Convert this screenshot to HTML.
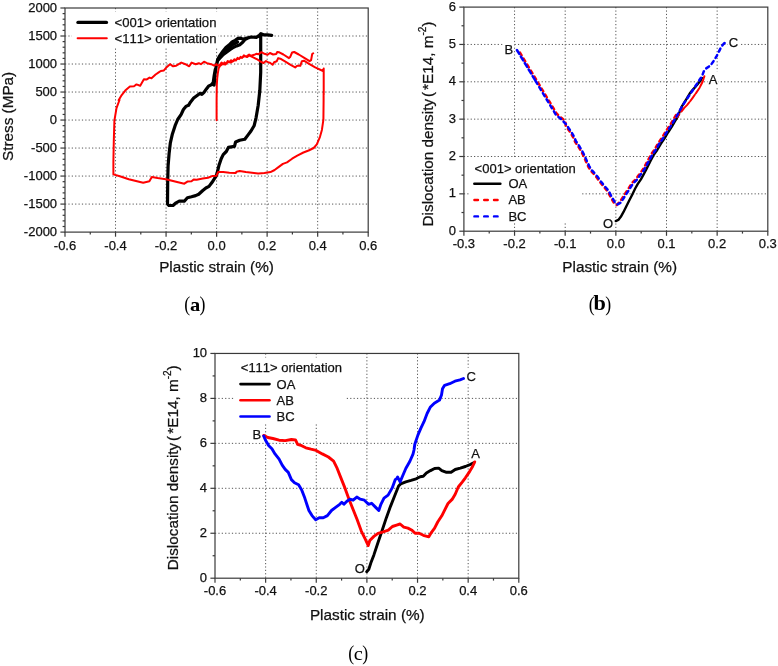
<!DOCTYPE html>
<html><head><meta charset="utf-8"><title>Figure</title>
<style>
html,body{margin:0;padding:0;background:#fff;}
svg{display:block;}
text{font-family:"Liberation Sans",Arial,sans-serif;fill:#111;font-kerning:none;stroke:#111;stroke-width:0.25px;}
.tk text{font-size:13px;}
.lg{font-size:13px;}
.pt{font-size:13px;}
.al{font-size:15.3px;}
.cap{font-family:"Liberation Serif","DejaVu Serif",serif;fill:#000;stroke:none;}
</style></head><body>
<svg width="778" height="666" viewBox="0 0 778 666">
<rect width="778" height="666" fill="#fff"/>
<g stroke="#555" stroke-width="1" stroke-dasharray="1.2 2.18" fill="none"><line x1="115.53" y1="8.00" x2="115.53" y2="232.10"/><line x1="166.07" y1="8.00" x2="166.07" y2="232.10"/><line x1="216.60" y1="8.00" x2="216.60" y2="232.10"/><line x1="267.13" y1="8.00" x2="267.13" y2="232.10"/><line x1="317.67" y1="8.00" x2="317.67" y2="232.10"/><line x1="65.00" y1="36.01" x2="368.20" y2="36.01"/><line x1="65.00" y1="64.03" x2="368.20" y2="64.03"/><line x1="65.00" y1="92.04" x2="368.20" y2="92.04"/><line x1="65.00" y1="120.05" x2="368.20" y2="120.05"/><line x1="65.00" y1="148.06" x2="368.20" y2="148.06"/><line x1="65.00" y1="176.07" x2="368.20" y2="176.07"/><line x1="65.00" y1="204.09" x2="368.20" y2="204.09"/></g>
<rect x="72" y="11.5" width="146" height="35.5" fill="#fff"/>
<g stroke="#3a3a3a" stroke-width="1.2" fill="none"><line x1="65.00" y1="232.10" x2="65.00" y2="236.70"/><line x1="115.53" y1="232.10" x2="115.53" y2="236.70"/><line x1="166.07" y1="232.10" x2="166.07" y2="236.70"/><line x1="216.60" y1="232.10" x2="216.60" y2="236.70"/><line x1="267.13" y1="232.10" x2="267.13" y2="236.70"/><line x1="317.67" y1="232.10" x2="317.67" y2="236.70"/><line x1="368.20" y1="232.10" x2="368.20" y2="236.70"/><line x1="90.27" y1="232.10" x2="90.27" y2="234.50"/><line x1="140.80" y1="232.10" x2="140.80" y2="234.50"/><line x1="191.33" y1="232.10" x2="191.33" y2="234.50"/><line x1="241.87" y1="232.10" x2="241.87" y2="234.50"/><line x1="292.40" y1="232.10" x2="292.40" y2="234.50"/><line x1="342.93" y1="232.10" x2="342.93" y2="234.50"/><line x1="65.00" y1="8.00" x2="60.40" y2="8.00"/><line x1="65.00" y1="36.01" x2="60.40" y2="36.01"/><line x1="65.00" y1="64.03" x2="60.40" y2="64.03"/><line x1="65.00" y1="92.04" x2="60.40" y2="92.04"/><line x1="65.00" y1="120.05" x2="60.40" y2="120.05"/><line x1="65.00" y1="148.06" x2="60.40" y2="148.06"/><line x1="65.00" y1="176.07" x2="60.40" y2="176.07"/><line x1="65.00" y1="204.09" x2="60.40" y2="204.09"/><line x1="65.00" y1="232.10" x2="60.40" y2="232.10"/><line x1="65.00" y1="13.60" x2="62.60" y2="13.60"/><line x1="65.00" y1="19.21" x2="62.60" y2="19.21"/><line x1="65.00" y1="24.81" x2="62.60" y2="24.81"/><line x1="65.00" y1="30.41" x2="62.60" y2="30.41"/><line x1="65.00" y1="41.62" x2="62.60" y2="41.62"/><line x1="65.00" y1="47.22" x2="62.60" y2="47.22"/><line x1="65.00" y1="52.82" x2="62.60" y2="52.82"/><line x1="65.00" y1="58.42" x2="62.60" y2="58.42"/><line x1="65.00" y1="69.63" x2="62.60" y2="69.63"/><line x1="65.00" y1="75.23" x2="62.60" y2="75.23"/><line x1="65.00" y1="80.83" x2="62.60" y2="80.83"/><line x1="65.00" y1="86.44" x2="62.60" y2="86.44"/><line x1="65.00" y1="97.64" x2="62.60" y2="97.64"/><line x1="65.00" y1="103.24" x2="62.60" y2="103.24"/><line x1="65.00" y1="108.84" x2="62.60" y2="108.84"/><line x1="65.00" y1="114.45" x2="62.60" y2="114.45"/><line x1="65.00" y1="125.65" x2="62.60" y2="125.65"/><line x1="65.00" y1="131.25" x2="62.60" y2="131.25"/><line x1="65.00" y1="136.86" x2="62.60" y2="136.86"/><line x1="65.00" y1="142.46" x2="62.60" y2="142.46"/><line x1="65.00" y1="153.67" x2="62.60" y2="153.67"/><line x1="65.00" y1="159.27" x2="62.60" y2="159.27"/><line x1="65.00" y1="164.87" x2="62.60" y2="164.87"/><line x1="65.00" y1="170.47" x2="62.60" y2="170.47"/><line x1="65.00" y1="181.68" x2="62.60" y2="181.68"/><line x1="65.00" y1="187.28" x2="62.60" y2="187.28"/><line x1="65.00" y1="192.88" x2="62.60" y2="192.88"/><line x1="65.00" y1="198.49" x2="62.60" y2="198.49"/><line x1="65.00" y1="209.69" x2="62.60" y2="209.69"/><line x1="65.00" y1="215.29" x2="62.60" y2="215.29"/><line x1="65.00" y1="220.89" x2="62.60" y2="220.89"/><line x1="65.00" y1="226.50" x2="62.60" y2="226.50"/><rect x="65.00" y="8.00" width="303.20" height="224.10"/></g>
<g class="tk"><text x="65.00" y="249.50" text-anchor="middle">-0.6</text><text x="115.53" y="249.50" text-anchor="middle">-0.4</text><text x="166.07" y="249.50" text-anchor="middle">-0.2</text><text x="216.60" y="249.50" text-anchor="middle">0.0</text><text x="267.13" y="249.50" text-anchor="middle">0.2</text><text x="317.67" y="249.50" text-anchor="middle">0.4</text><text x="368.20" y="249.50" text-anchor="middle">0.6</text><text x="57.10" y="11.60" text-anchor="end">2000</text><text x="57.10" y="39.61" text-anchor="end">1500</text><text x="57.10" y="67.62" text-anchor="end">1000</text><text x="57.10" y="95.64" text-anchor="end">500</text><text x="57.10" y="123.65" text-anchor="end">0</text><text x="57.10" y="151.66" text-anchor="end">-500</text><text x="57.10" y="179.67" text-anchor="end">-1000</text><text x="57.10" y="207.69" text-anchor="end">-1500</text><text x="57.10" y="235.70" text-anchor="end">-2000</text></g>
<path d="M217.7,60.0 L220.0,56.7 L223.1,52.9 L226.7,49.6 L229.7,47.1 L232.8,44.5 L235.9,43.1 L237.6,42.0" fill="none" stroke="#000" stroke-width="3.2" stroke-linejoin="round" stroke-linecap="round"/>
<path d="M214.1,85.1 L215.1,73.3 L216.2,66.1 L217.7,59.4 L219.8,55.6 L222.9,51.2 L225.9,47.6 L229.0,45.1 L232.1,42.0 L235.2,40.4 L238.0,38.4 L240.8,38.2 L243.4,39.4 L246.0,38.2 L251.1,37.0 L256.3,37.4 L259.4,35.8 L260.9,34.5 L260.7,37.4 L260.7,60.0 L260.7,72.3 L259.8,90.8 L258.2,105.2 L256.1,117.6 L254.1,125.8 L251.0,131.0 L247.9,135.1 L244.8,139.2 L239.7,140.2 L235.6,141.9 L234.5,146.4 L228.4,147.4 L226.3,151.5 L223.2,154.6 L221.2,158.7 L219.1,164.9 L217.1,173.1 L216.0,176.2 L216.6,175.1 L214.1,179.2 L212.1,182.3 L209.0,186.4 L205.9,188.0 L202.8,190.5 L198.7,194.2 L195.6,195.6 L191.5,196.7 L187.4,197.7 L184.3,201.2 L179.2,201.2 L176.1,202.8 L173.0,205.5 L168.9,205.5 L167.5,203.9 L167.7,182.3 L168.1,165.8 L169.1,153.5 L170.3,143.2 L172.4,133.9 L175.1,125.7 L177.7,119.5 L181.2,114.4 L183.4,109.5 L185.9,106.4 L188.5,105.3 L190.6,101.9 L193.7,98.1 L196.8,95.7 L199.8,93.4 L201.9,94.4 L204.0,92.4 L206.4,88.9 L208.5,86.2 L211.2,84.8 L213.2,82.7 L214.2,75.5 L215.3,69.4 L215.1,73.3 L216.2,66.1 L217.7,60.5 L220.3,57.7 L223.4,54.5 L227.5,51.5 L230.6,49.3 L233.7,47.2 L236.7,45.9 L239.8,44.7 L242.7,42.3 L244.8,39.7 L247.8,38.1 L251.1,37.0 L256.3,37.4 L259.4,35.3 L260.9,33.7 L263.5,34.8 L267.6,34.8 L271.7,35.3" fill="none" stroke="#000" stroke-width="3.2" stroke-linejoin="round" stroke-linecap="round"/>
<path d="M216.6,120.2 L216.6,100.0 L216.8,85.1 L217.2,78.5 L217.8,73.3 L218.7,68.2 L220.3,65.6 L220.3,65.6 L222.3,64.1 L225.4,64.6 L228.5,61.5 L230.6,62.5 L233.7,60.8 L236.7,59.4 L239.8,58.1 L242.9,57.1 L245.0,56.1 L247.0,57.1 L249.1,55.5 L251.1,56.4 L254.2,57.9 L257.3,59.4 L260.4,61.5 L263.5,63.0 L266.0,61.0 L268.6,62.5 L270.0,62.8 L272.6,64.8 L274.1,62.2 L276.7,61.2 L278.2,58.1 L280.3,58.7 L285.4,61.7 L290.6,64.8 L295.2,67.4 L297.2,65.8 L300.3,65.8 L301.9,61.2 L303.9,60.7 L309.1,63.8 L315.2,67.4 L323.0,71.0 L323.7,68.4 L323.7,95.1 L323.6,92.9 L323.6,101.1 L323.4,119.6 L321.9,129.9 L319.9,137.1 L316.8,144.3 L313.7,148.0 L308.6,150.5 L303.4,152.5 L297.3,155.6 L292.1,158.7 L287.0,162.4 L282.9,163.9 L278.8,166.9 L274.6,170.0 L270.5,172.1 L264.4,173.1 L258.2,173.5 L252.0,172.7 L245.8,172.1 L239.7,171.1 L236.6,171.7 L235.6,173.1 L229.4,172.7 L223.2,172.1 L218.1,172.1 L216.6,175.2 L216.6,175.7 L212.1,176.1 L208.0,177.7 L202.8,178.6 L196.7,179.8 L193.6,179.6 L191.5,181.2 L187.4,181.6 L184.3,183.7 L178.1,182.3 L172.0,180.8 L165.8,179.2 L157.6,178.1 L151.8,177.1 L149.4,181.2 L143.2,182.7 L137.0,181.2 L128.8,179.2 L120.6,176.5 L113.4,174.4 L113.4,161.7 L113.8,141.1 L114.4,120.6 L116.5,108.2 L119.5,100.0 L118.6,100.2 L121.7,95.1 L125.8,89.9 L129.9,86.4 L134.0,86.2 L136.5,84.4 L140.2,85.8 L143.9,79.2 L146.4,79.6 L149.5,77.6 L151.5,78.2 L155.6,74.5 L158.7,72.4 L160.8,71.0 L163.9,70.4 L166.9,66.9 L170.0,64.2 L173.1,66.3 L176.2,65.7 L181.3,62.6 L185.4,64.2 L189.2,66.3 L191.6,62.6 L195.7,64.2 L198.8,63.2 L200.9,64.2 L204.0,61.7 L207.0,63.2 L211.2,64.2 L214.2,65.7 L216.7,64.2 L216.7,64.9 L218.2,65.6 L220.3,64.3 L221.5,62.6 L223.2,64.1 L224.6,62.4 L226.2,63.8 L227.7,61.0 L229.3,62.2 L231.1,60.3 L232.6,61.5 L234.5,59.2 L235.9,60.5 L237.6,57.9 L239.0,59.1 L240.6,56.9 L242.1,57.9 L243.9,55.4 L245.5,56.5 L247.2,55.8 L249.1,54.6 L251.1,55.8 L254.2,54.8 L256.3,53.8 L258.3,54.3 L261.4,52.2 L264.5,53.8 L267.6,54.8 L269.6,53.3 L270.0,53.0 L273.1,54.5 L276.2,54.0 L277.2,52.0 L279.3,52.3 L283.4,54.5 L289.0,58.1 L290.1,57.1 L292.1,52.5 L294.2,52.0 L298.8,54.5 L303.9,57.6 L309.6,61.2 L311.1,60.2 L312.2,54.0 L313.2,53.3" fill="none" stroke="#f00" stroke-width="2" stroke-linejoin="round" stroke-linecap="round"/>
<line x1="78" y1="22.4" x2="106.4" y2="22.4" stroke="#000" stroke-width="3.4" stroke-linecap="round"/>
<line x1="77.6" y1="38.3" x2="106.8" y2="38.3" stroke="#f00" stroke-width="2" stroke-linecap="round"/>
<text class="lg" style="font-size:13.1px" x="114.5" y="27">&lt;001&gt; orientation</text>
<text class="lg" style="font-size:13.1px" x="114.5" y="43">&lt;111&gt; orientation</text>
<text class="al" x="216.5" y="272.0" text-anchor="middle">Plastic strain (%)</text>
<text class="al" transform="translate(12.6 116.4) rotate(-90)" text-anchor="middle">Stress (MPa)</text>
<text class="cap" font-size="21.8" transform="translate(187.3 311.4) scale(0.82 1)" text-anchor="middle">(</text>
<text class="cap" font-size="19.5" transform="translate(195.0 310.7) scale(1.05 1)" text-anchor="middle" font-weight="bold">a</text>
<text class="cap" font-size="21.8" transform="translate(202.5 311.4) scale(0.82 1)" text-anchor="middle">)</text>
<g stroke="#555" stroke-width="1" stroke-dasharray="1.2 2.18" fill="none"><line x1="514.55" y1="7.10" x2="514.55" y2="231.20"/><line x1="565.20" y1="7.10" x2="565.20" y2="231.20"/><line x1="615.85" y1="7.10" x2="615.85" y2="231.20"/><line x1="666.50" y1="7.10" x2="666.50" y2="231.20"/><line x1="717.15" y1="7.10" x2="717.15" y2="231.20"/><line x1="463.90" y1="44.45" x2="767.80" y2="44.45"/><line x1="463.90" y1="81.80" x2="767.80" y2="81.80"/><line x1="463.90" y1="119.15" x2="767.80" y2="119.15"/><line x1="463.90" y1="156.50" x2="767.80" y2="156.50"/><line x1="463.90" y1="193.85" x2="767.80" y2="193.85"/></g>
<rect x="469" y="158.5" width="111.5" height="64.5" fill="#fff"/>
<rect x="503.4" y="40.6" width="10.7" height="16.8" fill="#fff"/>
<rect x="727.8" y="33.6" width="11.4" height="16.8" fill="#fff"/>
<rect x="707.8" y="71.3" width="10.7" height="16.8" fill="#fff"/>
<rect x="602.0" y="214.5" width="12.1" height="16.8" fill="#fff"/>
<g stroke="#3a3a3a" stroke-width="1.2" fill="none"><line x1="463.90" y1="231.20" x2="463.90" y2="235.80"/><line x1="514.55" y1="231.20" x2="514.55" y2="235.80"/><line x1="565.20" y1="231.20" x2="565.20" y2="235.80"/><line x1="615.85" y1="231.20" x2="615.85" y2="235.80"/><line x1="666.50" y1="231.20" x2="666.50" y2="235.80"/><line x1="717.15" y1="231.20" x2="717.15" y2="235.80"/><line x1="767.80" y1="231.20" x2="767.80" y2="235.80"/><line x1="489.22" y1="231.20" x2="489.22" y2="233.60"/><line x1="539.88" y1="231.20" x2="539.88" y2="233.60"/><line x1="590.52" y1="231.20" x2="590.52" y2="233.60"/><line x1="641.17" y1="231.20" x2="641.17" y2="233.60"/><line x1="691.82" y1="231.20" x2="691.82" y2="233.60"/><line x1="742.47" y1="231.20" x2="742.47" y2="233.60"/><line x1="463.90" y1="7.10" x2="459.30" y2="7.10"/><line x1="463.90" y1="44.45" x2="459.30" y2="44.45"/><line x1="463.90" y1="81.80" x2="459.30" y2="81.80"/><line x1="463.90" y1="119.15" x2="459.30" y2="119.15"/><line x1="463.90" y1="156.50" x2="459.30" y2="156.50"/><line x1="463.90" y1="193.85" x2="459.30" y2="193.85"/><line x1="463.90" y1="231.20" x2="459.30" y2="231.20"/><line x1="463.90" y1="25.78" x2="461.50" y2="25.78"/><line x1="463.90" y1="63.12" x2="461.50" y2="63.12"/><line x1="463.90" y1="100.47" x2="461.50" y2="100.47"/><line x1="463.90" y1="137.82" x2="461.50" y2="137.82"/><line x1="463.90" y1="175.17" x2="461.50" y2="175.17"/><line x1="463.90" y1="212.52" x2="461.50" y2="212.52"/><rect x="463.90" y="7.10" width="303.90" height="224.10"/></g>
<g class="tk"><text x="463.90" y="248.40" text-anchor="middle">-0.3</text><text x="514.55" y="248.40" text-anchor="middle">-0.2</text><text x="565.20" y="248.40" text-anchor="middle">-0.1</text><text x="615.85" y="248.40" text-anchor="middle">0.0</text><text x="666.50" y="248.40" text-anchor="middle">0.1</text><text x="717.15" y="248.40" text-anchor="middle">0.2</text><text x="767.80" y="248.40" text-anchor="middle">0.3</text><text x="456.00" y="10.70" text-anchor="end">6</text><text x="456.00" y="48.05" text-anchor="end">5</text><text x="456.00" y="85.40" text-anchor="end">4</text><text x="456.00" y="122.75" text-anchor="end">3</text><text x="456.00" y="160.10" text-anchor="end">2</text><text x="456.00" y="197.45" text-anchor="end">1</text><text x="456.00" y="234.80" text-anchor="end">0</text></g>
<path d="M615.7,221.1 L618.3,219.9 L620.8,216.8 L623.4,212.2 L626.0,207.0 L629.1,200.8 L632.2,194.7 L635.2,188.5 L637.8,183.9 L640.9,179.3 L643.5,174.6 L646.0,170.0 L650.6,160.6 L653.6,155.1 L657.2,150.0 L660.8,143.8 L664.4,138.6 L668.0,132.5 L672.0,126.3 L675.0,121.2 L677.6,116.8 L681.6,106.9 L686.4,99.1 L690.0,93.1 L693.6,88.9 L697.2,84.7 L700.2,81.1 L702.0,78.0" fill="none" stroke="#000" stroke-width="2.4" stroke-linejoin="round" stroke-linecap="round"/>
<path d="M518.2,49.6 L536.9,80.6 L539.9,85.6 L541.8,88.8 L544.0,92.5 L546.9,97.3 L550.2,102.7 L553.6,108.4 L557.0,114.0 L560.1,116.8 L563.2,119.2 L565.5,122.0 L565.6,125.3 L567.8,128.9 L570.4,132.5 L573.0,137.2 L575.0,141.8 L578.1,146.4 L581.2,151.5 L583.8,156.7 L586.0,161.8 L588.4,167.0 L591.0,171.1 L594.1,174.4 L597.1,178.1 L599.4,181.5 L603.5,186.6 L607.6,191.3 L610.7,197.4 L613.8,202.6 L616.7,205.1 L619.3,202.2 L621.9,198.6 L624.5,194.5 L627.6,189.9 L630.1,185.8 L632.7,182.2 L635.8,179.1 L638.4,175.5 L641.4,171.4 L643.0,169.3 L648.4,159.3 L651.4,153.8 L655.0,148.7 L658.6,142.5 L662.2,137.3 L665.8,131.2 L670.0,125.0 L673.0,119.9 L676.1,114.7 L676.8,117.4 L681.4,111.2 L684.0,108.1" fill="none" stroke="#f00" stroke-width="2.4" stroke-dasharray="3.2 3.8" stroke-dashoffset="3.5" stroke-linejoin="round" stroke-linecap="round"/>
<path d="M684.0,108.1 L687.0,105.1 L690.0,101.5 L693.0,97.3 L696.0,93.1 L699.6,87.7 L702.6,81.7 L704.4,76.2" fill="none" stroke="#f00" stroke-width="2" stroke-dasharray="8 1.2" stroke-linejoin="round" stroke-linecap="round"/>
<path d="M516.9,50.0 L535.6,81.0" fill="none" stroke="#00f" stroke-width="2.5" stroke-dasharray="4.6 3" stroke-linejoin="round" stroke-linecap="round"/>
<path d="M535.6,81.0 L538.6,86.0 L540.5,89.2 L542.7,92.9 L545.6,97.7 L548.9,103.1 L552.3,108.8 L555.7,114.4 L558.8,117.2 L561.9,119.6 L564.2,122.4 L566.5,124.6 L568.7,128.2 L571.3,131.8 L573.9,136.5 L575.9,141.1 L579.0,145.7 L582.1,150.8 L584.7,156.0 L586.9,161.1 L589.3,166.3 L591.9,170.4 L595.0,173.7 L598.0,177.4 L600.3,180.8 L604.4,185.9 L608.5,190.6 L611.6,196.7 L614.7,201.9 L617.6,204.4 L620.3,202.9 L622.9,199.3 L625.5,195.2 L628.6,190.6 L631.1,186.5 L633.7,182.9 L636.8,179.8 L639.4,176.2 L642.4,172.1 L644.0,170.0 L649.4,160.0 L652.4,154.5 L656.0,149.4 L659.6,143.2 L663.2,138.0 L666.8,131.9 L671.0,125.7 L674.0,120.6 L677.1,115.4 L679.8,110.4 L684.0,103.3 L688.8,96.1 L692.4,90.7 L696.0,85.3 L699.6,79.8 L702.0,76.2 L703.8,71.4 L706.2,68.4 L710.5,65.4 L713.5,61.2 L716.5,56.4 L718.9,51.6 L721.3,46.8 L723.7,43.8 L725.5,42.4" fill="none" stroke="#00f" stroke-width="2.5" stroke-dasharray="3.4 3.7" stroke-linejoin="round" stroke-linecap="round"/>
<text class="lg" x="474.6" y="172.6">&lt;001&gt; orientation</text>
<line x1="474.3" y1="183.8" x2="500.4" y2="183.8" stroke="#000" stroke-width="2.4" stroke-linecap="round"/>
<line x1="474.4" y1="200" x2="499" y2="200" stroke="#f00" stroke-width="2.4" stroke-dasharray="3.6 6.2" stroke-linecap="round"/>
<line x1="474.4" y1="216.4" x2="499" y2="216.4" stroke="#00f" stroke-width="2.4" stroke-dasharray="3.6 6.2" stroke-linecap="round"/>
<text class="lg" x="508.4" y="188.4">OA</text>
<text class="lg" x="508.4" y="204.4">AB</text>
<text class="lg" x="508.4" y="220.6">BC</text>
<text class="pt" x="504.4" y="53.6">B</text>
<text class="pt" x="728.8" y="46.6">C</text>
<text class="pt" x="708.8" y="84.3">A</text>
<text class="pt" x="603" y="227.5">O</text>
<text class="al" x="619.7" y="271.9" text-anchor="middle">Plastic strain (%)</text>
<text class="al" transform="translate(432.8 124.0) rotate(-90)" text-anchor="middle">Dislocation density <tspan dx="-2.4">(</tspan><tspan dx="2.0">*E14, m</tspan><tspan dy="-7" font-size="10">-2</tspan><tspan dy="7">)</tspan></text>
<text class="cap" font-size="21.8" transform="translate(591.8 311.3) scale(0.82 1)" text-anchor="middle">(</text>
<text class="cap" font-size="21.2" transform="translate(599.8 310.1) scale(1.05 1)" text-anchor="middle" font-weight="bold">b</text>
<text class="cap" font-size="21.8" transform="translate(608.1 311.3) scale(0.82 1)" text-anchor="middle">)</text>
<g stroke="#555" stroke-width="1" stroke-dasharray="1.2 2.18" fill="none"><line x1="265.63" y1="353.45" x2="265.63" y2="578.20"/><line x1="316.27" y1="353.45" x2="316.27" y2="578.20"/><line x1="366.90" y1="353.45" x2="366.90" y2="578.20"/><line x1="417.53" y1="353.45" x2="417.53" y2="578.20"/><line x1="468.17" y1="353.45" x2="468.17" y2="578.20"/><line x1="215.00" y1="398.40" x2="518.80" y2="398.40"/><line x1="215.00" y1="443.35" x2="518.80" y2="443.35"/><line x1="215.00" y1="488.30" x2="518.80" y2="488.30"/><line x1="215.00" y1="533.25" x2="518.80" y2="533.25"/></g>
<rect x="234" y="357.5" width="111" height="66.5" fill="#fff"/>
<rect x="251.4" y="425.9" width="10.7" height="16.8" fill="#fff"/>
<rect x="465.6" y="367.7" width="11.4" height="16.8" fill="#fff"/>
<rect x="470.2" y="444.8" width="10.7" height="16.8" fill="#fff"/>
<rect x="353.8" y="559.9" width="12.1" height="16.8" fill="#fff"/>
<g stroke="#3a3a3a" stroke-width="1.2" fill="none"><line x1="215.00" y1="578.20" x2="215.00" y2="582.80"/><line x1="265.63" y1="578.20" x2="265.63" y2="582.80"/><line x1="316.27" y1="578.20" x2="316.27" y2="582.80"/><line x1="366.90" y1="578.20" x2="366.90" y2="582.80"/><line x1="417.53" y1="578.20" x2="417.53" y2="582.80"/><line x1="468.17" y1="578.20" x2="468.17" y2="582.80"/><line x1="518.80" y1="578.20" x2="518.80" y2="582.80"/><line x1="240.32" y1="578.20" x2="240.32" y2="580.60"/><line x1="290.95" y1="578.20" x2="290.95" y2="580.60"/><line x1="341.58" y1="578.20" x2="341.58" y2="580.60"/><line x1="392.22" y1="578.20" x2="392.22" y2="580.60"/><line x1="442.85" y1="578.20" x2="442.85" y2="580.60"/><line x1="493.48" y1="578.20" x2="493.48" y2="580.60"/><line x1="215.00" y1="353.45" x2="210.40" y2="353.45"/><line x1="215.00" y1="398.40" x2="210.40" y2="398.40"/><line x1="215.00" y1="443.35" x2="210.40" y2="443.35"/><line x1="215.00" y1="488.30" x2="210.40" y2="488.30"/><line x1="215.00" y1="533.25" x2="210.40" y2="533.25"/><line x1="215.00" y1="578.20" x2="210.40" y2="578.20"/><line x1="215.00" y1="375.92" x2="212.60" y2="375.92"/><line x1="215.00" y1="420.88" x2="212.60" y2="420.88"/><line x1="215.00" y1="465.83" x2="212.60" y2="465.83"/><line x1="215.00" y1="510.78" x2="212.60" y2="510.78"/><line x1="215.00" y1="555.73" x2="212.60" y2="555.73"/><rect x="215.00" y="353.45" width="303.80" height="224.75"/></g>
<g class="tk"><text x="215.00" y="595.00" text-anchor="middle">-0.6</text><text x="265.63" y="595.00" text-anchor="middle">-0.4</text><text x="316.27" y="595.00" text-anchor="middle">-0.2</text><text x="366.90" y="595.00" text-anchor="middle">0.0</text><text x="417.53" y="595.00" text-anchor="middle">0.2</text><text x="468.17" y="595.00" text-anchor="middle">0.4</text><text x="518.80" y="595.00" text-anchor="middle">0.6</text><text x="207.10" y="357.45" text-anchor="end">10</text><text x="207.10" y="402.40" text-anchor="end">8</text><text x="207.10" y="447.35" text-anchor="end">6</text><text x="207.10" y="492.30" text-anchor="end">4</text><text x="207.10" y="537.25" text-anchor="end">2</text><text x="207.10" y="582.20" text-anchor="end">0</text></g>
<path d="M366.7,571.7 L368.8,569.3 L370.8,563.1 L373.9,554.9 L378.0,542.5 L382.2,530.2 L386.3,517.9 L390.4,506.6 L394.5,496.3 L398.6,486.0 L400.7,483.9 L405.8,481.9 L411.0,480.4 L416.1,478.8 L420.2,476.7 L423.3,476.3 L426.4,473.0 L430.5,470.6 L434.6,468.5 L438.7,468.1 L441.8,470.6 L445.9,472.2 L451.1,472.2 L455.2,469.5 L460.3,468.1 L465.4,466.5 L470.6,464.4 L473.7,462.8" fill="none" stroke="#000" stroke-width="2.9" stroke-linejoin="round" stroke-linecap="round"/>
<path d="M263.7,435.4 L267.8,437.5 L272.9,438.5 L279.1,440.2 L285.2,440.6 L291.4,439.5 L295.5,439.9 L297.6,444.3 L301.7,445.7 L305.8,447.8 L311.0,449.2 L316.1,450.4 L322.3,453.9 L328.4,457.0 L333.6,461.1 L336.7,467.3 L340.8,477.6 L344.9,487.9 L349.0,499.2 L353.1,509.5 L357.2,519.7 L361.3,531.1 L365.4,539.3 L367.9,545.0 L368.2,545.6 L369.8,540.5 L373.9,536.4 L378.0,533.3 L383.2,531.9 L388.3,530.2 L392.4,526.5 L396.6,525.1 L400.1,524.0 L403.8,527.1 L407.9,528.1 L412.0,530.2 L415.1,533.3 L419.2,533.3 L423.3,535.3 L428.8,536.8 L431.5,532.3 L434.6,528.1 L437.7,522.0 L441.8,515.8 L444.9,509.6 L448.0,503.5 L452.1,499.4 L455.2,494.2 L458.3,487.0 L462.4,481.9 L465.4,477.8 L469.6,471.6 L472.6,466.5 L474.7,461.9" fill="none" stroke="#f00" stroke-width="2.9" stroke-linejoin="round" stroke-linecap="round"/>
<path d="M263.7,436.0 L265.7,440.6 L268.8,445.7 L271.9,448.8 L275.0,453.9 L279.1,459.1 L282.2,465.2 L285.2,469.4 L288.3,472.4 L291.4,479.6 L294.5,482.7 L298.6,484.8 L301.7,489.9 L304.8,498.1 L306.8,504.3 L308.9,510.5 L312.0,515.6 L315.7,519.7 L319.2,517.7 L323.3,517.7 L327.4,515.6 L331.5,510.5 L335.6,507.4 L339.7,504.3 L341.8,502.3 L343.9,504.3 L346.9,501.2 L350.0,499.2 L353.1,500.2 L356.8,497.1 L360.3,499.2 L364.4,500.2 L368.5,504.3 L371.6,503.3 L375.7,507.4 L378.8,510.5 L380.9,504.3 L384.0,498.1 L388.1,495.1 L392.2,487.9 L395.3,479.6 L397.9,477.6 L397.6,477.1 L400.1,481.9 L402.7,475.7 L405.8,468.5 L409.9,461.3 L413.0,454.1 L414.0,450.0 L414.8,444.3 L417.9,435.1 L421.0,427.9 L424.0,421.7 L427.1,413.5 L430.2,407.3 L434.3,403.2 L439.5,400.1 L441.5,395.0 L442.5,388.8 L444.6,385.3 L449.7,383.7 L454.9,381.2 L460.0,379.9 L463.5,378.5" fill="none" stroke="#00f" stroke-width="2.9" stroke-linejoin="round" stroke-linecap="round"/>
<text class="lg" x="240.8" y="372.2">&lt;111&gt; orientation</text>
<line x1="240.5" y1="384.1" x2="269.5" y2="384.1" stroke="#000" stroke-width="2.6" stroke-linecap="round"/>
<line x1="240.5" y1="400.2" x2="269.5" y2="400.2" stroke="#f00" stroke-width="2.6" stroke-linecap="round"/>
<line x1="240.5" y1="416.5" x2="269.5" y2="416.5" stroke="#00f" stroke-width="2.6" stroke-linecap="round"/>
<text class="lg" x="276.6" y="388.7">OA</text>
<text class="lg" x="276.6" y="404.8">AB</text>
<text class="lg" x="276.6" y="420.9">BC</text>
<text class="pt" x="252.4" y="438.9">B</text>
<text class="pt" x="466.6" y="380.7">C</text>
<text class="pt" x="471.2" y="457.8">A</text>
<text class="pt" x="354.8" y="572.9">O</text>
<text class="al" x="367.3" y="620.0" text-anchor="middle">Plastic strain (%)</text>
<text class="al" transform="translate(178.4 467.8) rotate(-90)" text-anchor="middle">Dislocation density <tspan dx="-2.4">(</tspan><tspan dx="2.0">*E14, m</tspan><tspan dy="-7" font-size="10">-2</tspan><tspan dy="7">)</tspan></text>
<text class="cap" font-size="21.8" transform="translate(351.3 660.2) scale(0.82 1)" text-anchor="middle">(</text>
<text class="cap" font-size="19.5" transform="translate(358.4 660.3) scale(1.05 1)" text-anchor="middle">c</text>
<text class="cap" font-size="21.8" transform="translate(365.1 660.2) scale(0.82 1)" text-anchor="middle">)</text>
</svg>
</body></html>
